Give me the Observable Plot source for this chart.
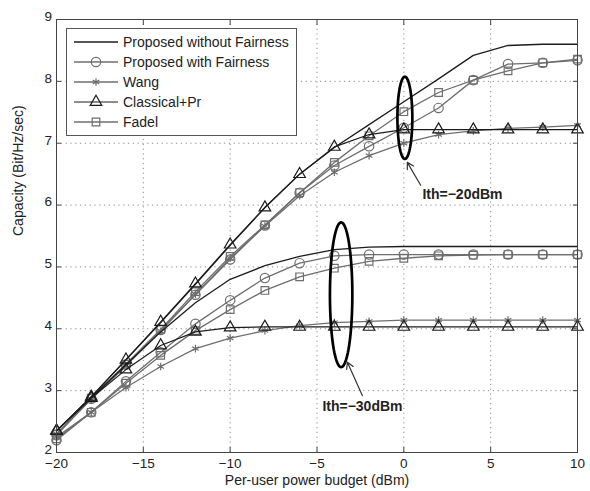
<!DOCTYPE html>
<html><head><meta charset="utf-8">
<script src="https://cdn.jsdelivr.net/npm/d3@7"></script>
<script src="https://cdn.jsdelivr.net/npm/@observablehq/plot@0.6"></script>
<style>
body{margin:0;background:#fff;font-family:"Liberation Sans",Arial,sans-serif;}
#wrap{position:relative;width:590px;height:491px;}
</style></head><body><div id="wrap"></div>
<script>
// ---------- data ----------
const power = [-20,-18,-16,-14,-12,-10,-8,-6,-4,-2,0,2,4,6,8,10];
const seriesNames = ["Proposed without Fairness","Proposed with Fairness","Wang","Classical+Pr","Fadel"];
const thresholds = ["Ith=−20dBm","Ith=−30dBm"];
// Ith = -20 dBm
const woFair20  = [2.35,2.90,3.50,4.10,4.72,5.35,5.96,6.50,6.93,7.30,7.67,8.04,8.42,8.58,8.60,8.60];
const wFair20   = [2.28,2.87,3.42,3.98,4.55,5.12,5.67,6.20,6.64,6.95,7.25,7.57,8.02,8.28,8.30,8.34];
const wang20    = [2.30,2.86,3.40,3.96,4.56,5.14,5.66,6.15,6.53,6.80,7.00,7.14,7.20,7.24,7.26,7.29];
const classic20 = [2.35,2.90,3.50,4.11,4.73,5.36,5.96,6.50,6.94,7.14,7.22,7.22,7.22,7.22,7.22,7.22];
const fadel20   = [2.30,2.88,3.43,3.99,4.60,5.17,5.68,6.20,6.69,7.12,7.51,7.82,8.02,8.17,8.30,8.36];
// Ith = -30 dBm
const woFair30  = [2.35,2.88,3.42,3.95,4.42,4.80,5.02,5.17,5.28,5.32,5.33,5.33,5.33,5.33,5.33,5.33];
const wFair30   = [2.20,2.65,3.15,3.62,4.08,4.46,4.82,5.06,5.18,5.20,5.20,5.20,5.20,5.20,5.20,5.20];
const wang30    = [2.25,2.65,3.05,3.39,3.68,3.85,3.97,4.05,4.10,4.12,4.14,4.14,4.14,4.14,4.14,4.14];
const classic30 = [2.35,2.88,3.34,3.73,3.95,4.02,4.03,4.03,4.03,4.03,4.03,4.03,4.03,4.03,4.03,4.03];
const fadel30   = [2.22,2.65,3.12,3.57,3.97,4.31,4.62,4.84,4.98,5.09,5.14,5.18,5.19,5.20,5.20,5.20];
const xTicks = [-20,-15,-10,-5,0,5,10];
const yTicks = [2,3,4,5,6,7,8,9];
const xLabel = "Per-user power budget (dBm)";
const yLabel = "Capacity (Bit/Hz/sec)";
// annotation ellipses (data units) with arrows and labels
const annotations = [
  {id:"a20", label:thresholds[0], cx:0.06, cy:7.41, rx:0.43, ry:0.665, ax1:0.97, ay1:6.32, ax2:0.2, ay2:6.69, tx:1.07, ty:6.17},
  {id:"a30", label:thresholds[1], cx:-3.61, cy:4.55, rx:0.645, ry:1.17, ax1:-2.39, ay1:2.92, ax2:-3.25, ay2:3.46, tx:-4.69, ty:2.75}
];

// ---------- assembly ----------
const seriesData = {
  "Proposed without Fairness": [woFair20, woFair30],
  "Proposed with Fairness": [wFair20, wFair30],
  "Wang": [wang20, wang30],
  "Classical+Pr": [classic20, classic30],
  "Fadel": [fadel20, fadel30]
};
const style = {
  "Proposed without Fairness": {color:"#1c1c1c", symbol:null, r:0, w:1.3},
  "Proposed with Fairness": {color:"#6e6e6e", symbol:"circle", r:4.7, w:1.3},
  "Wang": {color:"#6e6e6e", symbol:"asterisk", r:3.6, w:1.3},
  "Classical+Pr": {color:"#1c1c1c", symbol:"triangle", r:4.3, w:1.2},
  "Fadel": {color:"#6e6e6e", symbol:"square", r:4.3, w:1.3}
};
const rows = [];
for (const name of seriesNames) {
  seriesData[name].forEach((arr, gi) => arr.forEach((v, i) => rows.push({x: power[i], y: v, name, group: thresholds[gi]})));
}
const drawOrder = ["Fadel","Wang","Proposed with Fairness","Proposed without Fairness","Classical+Pr"];
const seriesMarks = drawOrder.flatMap(name => {
  const s = style[name];
  const d = rows.filter(r => r.name === name);
  const m = [Plot.line(d, {x:"x", y:"y", z:"group", stroke:s.color, strokeWidth:s.w})];
  if (s.symbol) m.push(Plot.dot(d, {x:"x", y:"y", symbol:()=>s.symbol, r:s.r, stroke:s.color, fill:"none", strokeWidth:1.2}));
  return m;
});
const ellipsePts = annotations.flatMap(a => d3.range(97).map(k => {
  const t = k / 96 * 2 * Math.PI;
  return {id:a.id, x:a.cx + a.rx*Math.cos(t), y:a.cy + a.ry*Math.sin(t)};
}));

const chart = Plot.plot({
  width:590, height:491,
  marginLeft:56, marginRight:13, marginTop:19, marginBottom:39,
  style:{fontFamily:'"Liberation Sans", Arial, sans-serif', fontSize:"14px", color:"#222", background:"#fff"},
  x:{domain:[-20,10]},
  y:{domain:[2,9]},
  marks:[
    Plot.gridX(xTicks, {stroke:"#8c8c8c", strokeOpacity:1, strokeDasharray:"1.2,3.6"}),
    Plot.gridY(yTicks, {stroke:"#8c8c8c", strokeOpacity:1, strokeDasharray:"1.2,3.6"}),
    ...seriesMarks,
    Plot.line(ellipsePts, {x:"x", y:"y", z:"id", curve:"linear-closed", stroke:"#000", strokeWidth:2.7}),
    Plot.arrow(annotations, {x1:"ax1", y1:"ay1", x2:"ax2", y2:"ay2", stroke:"#333", strokeWidth:1.2, headLength:9}),
    Plot.text(annotations, {x:"tx", y:"ty", text:"label", textAnchor:"start", fontWeight:"bold", fontSize:14, fill:"#222"}),
    Plot.frame({stroke:"#444"}),
    Plot.axisX(xTicks, {anchor:"bottom", tickSize:-5, tickPadding:11, fontSize:13.5, tickFormat:d=>d3.format("d")(d).replace("-","−"), label:null, stroke:"#444"}),
    Plot.axisX(xTicks, {anchor:"top", tickSize:-5, tickFormat:()=>"", label:null, stroke:"#444"}),
    Plot.axisY(yTicks, {anchor:"left", tickSize:-5, tickFormat:()=>"", label:null, stroke:"#444"}),
    Plot.axisY(yTicks, {anchor:"left", tickSize:0, tickPadding:4.5, dy:-3, fontSize:13.5, tickFormat:d=>String(d), label:null}),
    Plot.axisY(yTicks, {anchor:"right", tickSize:-5, tickFormat:()=>"", label:null, stroke:"#444"}),
    Plot.text([xLabel], {frameAnchor:"bottom", dy:32, text:d=>d, fill:"#222"}),
    Plot.text([yLabel], {frameAnchor:"left", dx:-38, rotate:-90, text:d=>d, fill:"#222"})
  ]
});
const wrap = document.getElementById("wrap");
wrap.appendChild(chart);

// ---------- legend overlay ----------
const symbolMap = {circle:d3.symbolCircle, asterisk:d3.symbolAsterisk, triangle:d3.symbolTriangle, square:d3.symbolSquare};
const lg = d3.create("svg").attr("width",232).attr("height",109)
  .style("position","absolute").style("left","66px").style("top","28px")
  .style("font-family",'"Liberation Sans", Arial, sans-serif');
lg.append("rect").attr("x",0.5).attr("y",0.5).attr("width",230).attr("height",107).attr("fill","#fff").attr("stroke","#555");
seriesNames.forEach((n, i) => {
  const s = style[n];
  const yy = 14 + i * 20;
  lg.append("line").attr("x1",8).attr("x2",52).attr("y1",yy).attr("y2",yy).attr("stroke",s.color).attr("stroke-width",s.w);
  if (s.symbol) lg.append("path").attr("d", d3.symbol(symbolMap[s.symbol], Math.PI*s.r*s.r)())
    .attr("transform",`translate(30,${yy})`).attr("fill","none").attr("stroke",s.color).attr("stroke-width",1.2);
  lg.append("text").attr("x",57).attr("y",yy).attr("dy","0.35em").attr("font-size",14).attr("fill","#222").text(n);
});
wrap.appendChild(lg.node());
</script>
</body></html>
